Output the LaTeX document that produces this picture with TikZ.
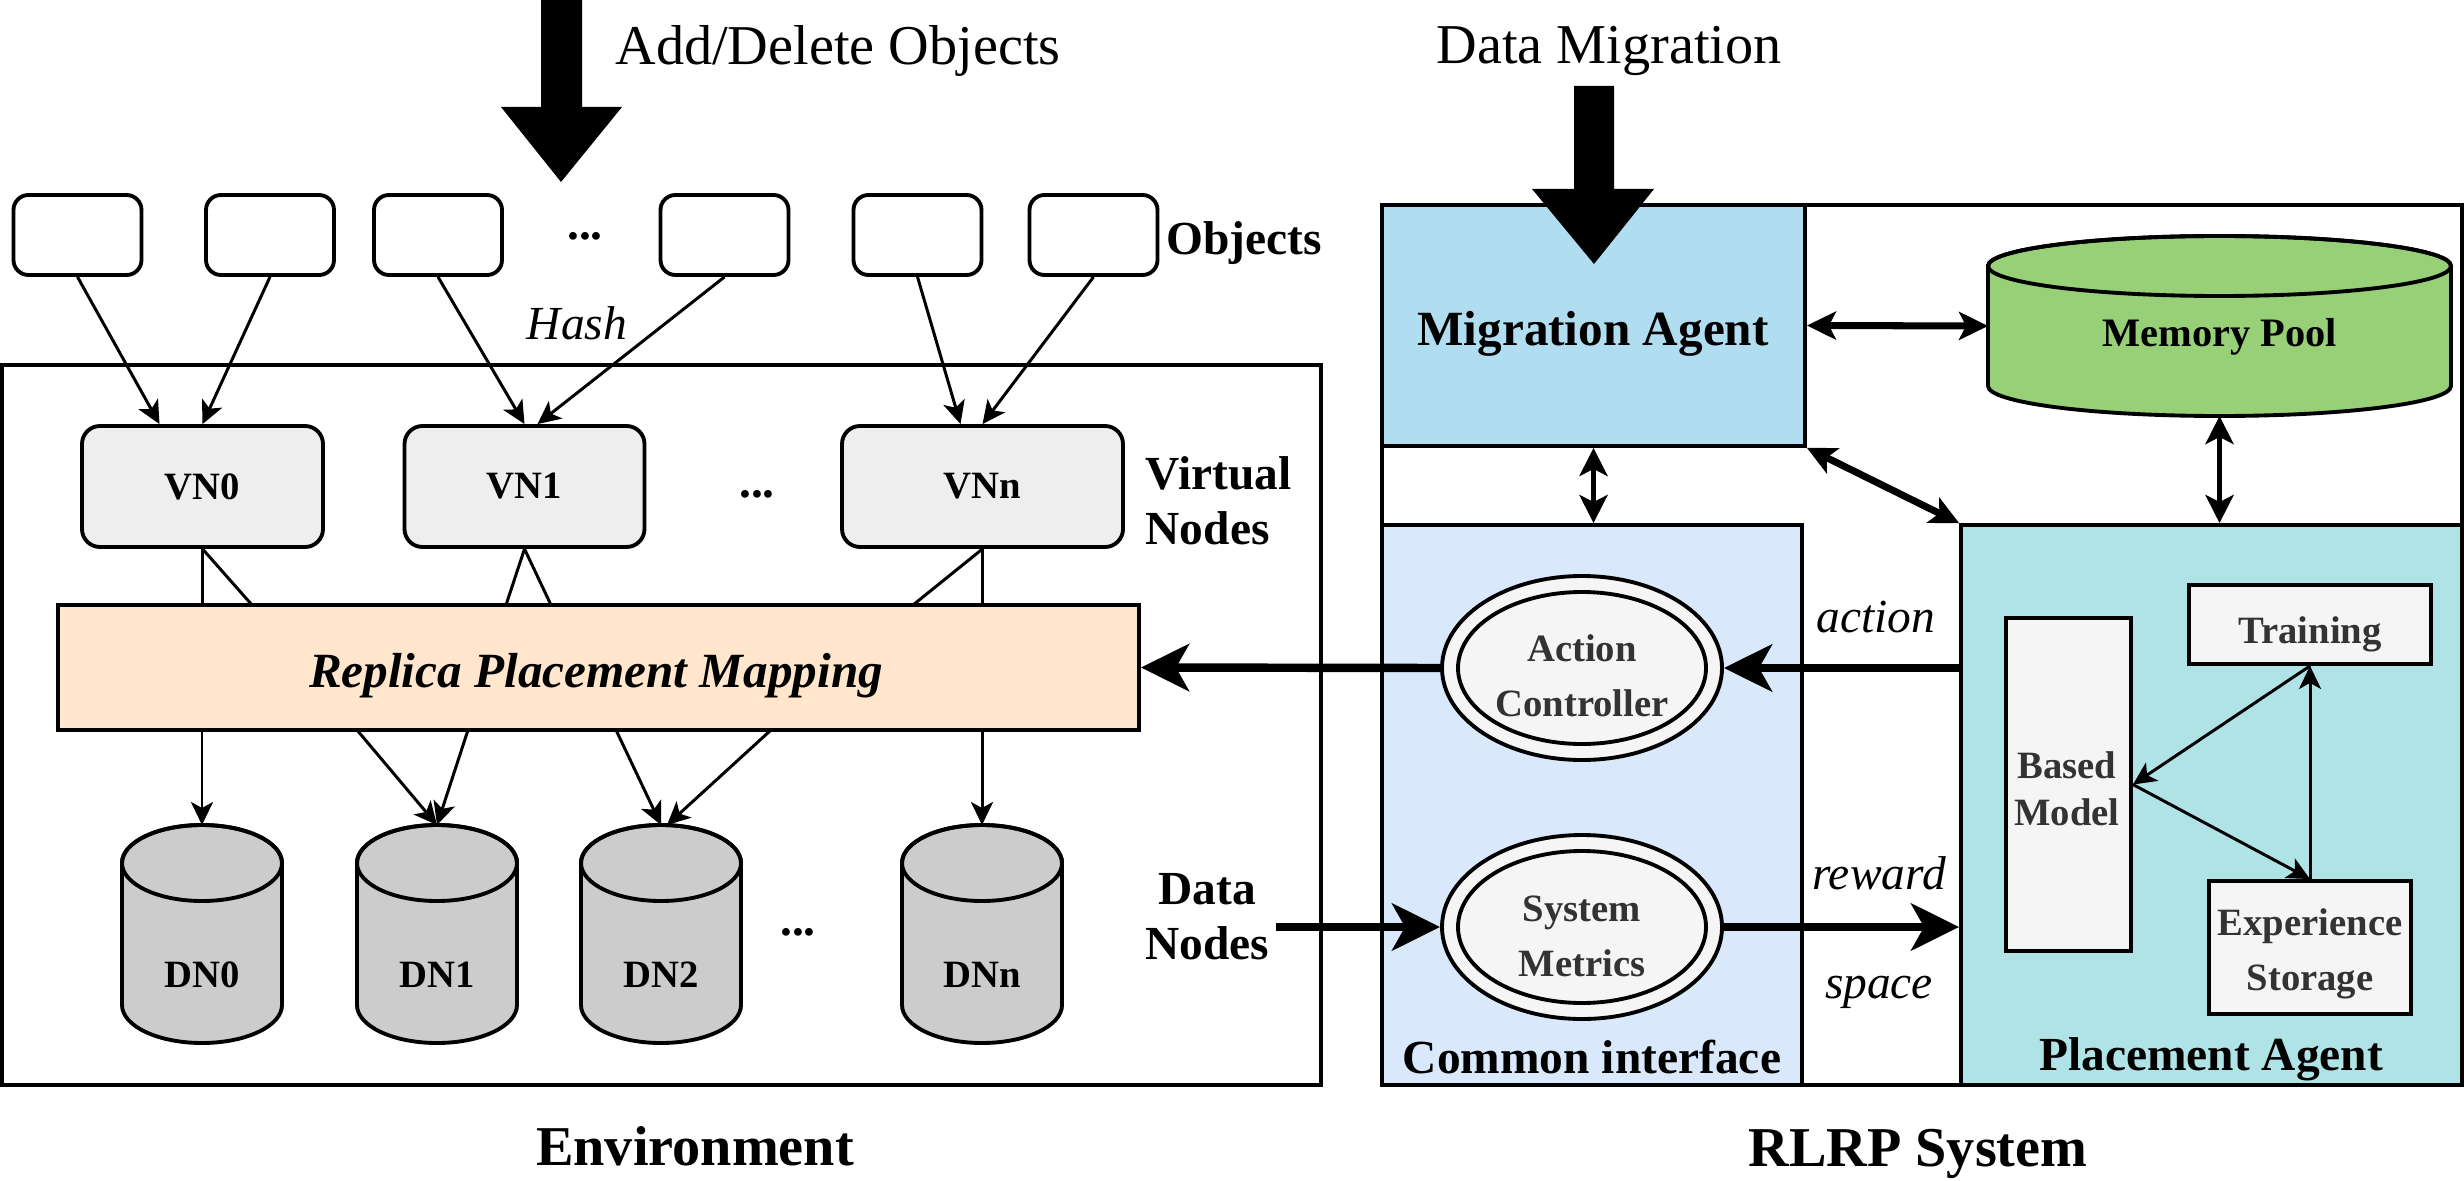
\documentclass[tikz,border=0pt]{standalone}
\usepackage{fontspec}
\setmainfont{Liberation Serif}
\usetikzlibrary{arrows.meta,shapes.geometric,calc}
\definecolor{vngray}{HTML}{EEEEEE}
\definecolor{dngray}{HTML}{CCCCCC}
\definecolor{mapfill}{HTML}{FFE6CC}
\definecolor{mafill}{HTML}{B1DDF0}
\definecolor{cifill}{HTML}{DAE8FC}
\definecolor{pafill}{HTML}{B0E3E6}
\definecolor{mpfill}{HTML}{97D077}
\definecolor{innerfill}{HTML}{F5F5F5}
\definecolor{txtgray}{HTML}{333333}
\newcommand{\myXL}{\fontsize{16}{19}\selectfont}
\newcommand{\myL}{\fontsize{14}{17}\selectfont}
\newcommand{\myM}{\fontsize{13.5}{15.6}\selectfont}
\newcommand{\myS}{\fontsize{11}{15.6}\selectfont}
\newcommand{\mySt}{\fontsize{11}{13.3}\selectfont}
\newcommand{\myMP}{\fontsize{11.5}{14}\selectfont}
\newcommand{\dbcyl}[8]{%
  \filldraw[box, fill=#7] (#2-#5,#3+#6) -- (#2-#5,#4-#6)
     arc[start angle=180,end angle=0,x radius=#5,y radius=#6]
     -- (#2+#5,#3+#6)
     arc[start angle=0,end angle=-180,x radius=#5,y radius=#6] -- cycle;
  \draw[box] (#2,#3+#6) ellipse[x radius=#5,y radius=#6];
  \coordinate (#1) at (#2,{(#3+#4)/2});
  \coordinate (#1-n) at (#2,#3);
  \coordinate (#1-s) at (#2,#4);
  \coordinate (#1-w) at (#2-#5,{(#3+#4)/2});
  \coordinate (#1-e) at (#2+#5,{(#3+#4)/2});
  #8}
\begin{document}
\begin{tikzpicture}[x=0.1mm,y=-0.1mm,
  box/.style={draw, line width=1.1pt},
  objbox/.style={box, rounded corners=1.5mm, fill=white, minimum width=12.8mm, minimum height=8mm, inner sep=0},
  vnbox/.style={box, rounded corners=1.8mm, fill=vngray, minimum height=12.1mm, inner sep=0, font=\myS\bfseries},
  graybox/.style={box, fill=innerfill, inner sep=0},
  ring/.style={box, ellipse, fill=innerfill, minimum width=28mm, minimum height=18.4mm, inner sep=0},
  lbl/.style={inner sep=0, anchor=center},
  thinarrow/.style={line width=0.85pt, -{Stealth[length=2.3mm, width=2.2mm, inset=0.6mm]}},
  thinline/.style={line width=0.85pt},
  thickarrow/.style={line width=2.4pt, -{Stealth[length=4.8mm, width=4.7mm, inset=1.3mm]}},
  dblarrow/.style={line width=2pt, {Stealth[length=2.9mm, width=2.8mm, inset=0.7mm]}-{Stealth[length=2.9mm, width=2.8mm, inset=0.7mm]}},
  dblarrowthin/.style={line width=1.5pt, {Stealth[length=2.8mm, width=2.8mm, inset=0.7mm]}-{Stealth[length=2.8mm, width=2.8mm, inset=0.7mm]}},
]
\useasboundingbox (0,0) rectangle (2464,1180);

% ---------------- Environment ----------------
\draw[box] (2,365) rectangle (1321,1085);

% top block arrow
\fill (541,0) -- (582,0) -- (582,107) -- (622,107) -- (561,182) -- (501,107) -- (541,107) -- cycle;
\node[lbl, font=\myXL] (adddel) at (838,51) {Add/Delete Objects};

% objects
\node[objbox] (o1) at (77.5,235) {};
\node[objbox] (o2) at (270,235) {};
\node[objbox] (o3) at (438,235) {};
\node[lbl, font=\myM\bfseries] (odots) at (585,236) {...};
\node[objbox] (o4) at (724.5,235) {};
\node[objbox] (o5) at (917.5,235) {};
\node[objbox] (o6) at (1093.5,235) {};
\node[lbl, font=\myM\bfseries] (objlbl) at (1244,243) {Objects};
\node[lbl, font=\myM\itshape] (hash) at (577,323) {Hash};

% virtual nodes
\node[vnbox, minimum width=24.1mm] (vn0) at (202.5,486.5) {VN0};
\node[vnbox, minimum width=24.0mm] (vn1) at (524.5,486.5) {VN1};
\node[lbl, font=\myM\bfseries] (vdots) at (757,494) {...};
\node[vnbox, minimum width=28.1mm] (vnn) at (982.5,486.5) {VNn};
\node[lbl, font=\myM\bfseries, align=left, anchor=west] (vnlbl) at (1145,501) {Virtual\\Nodes};

% hash arrows
\draw[thinarrow] (o1.south) -- ([xshift=-4.3mm]vn0.north);
\draw[thinarrow] (o2.south) -- (vn0.north);
\draw[thinarrow] (o3.south) -- (vn1.north);
\draw[thinarrow] (o4.south) -- ([xshift=1.3mm]vn1.north);
\draw[thinarrow] (o5.south) -- ([xshift=-2.2mm]vnn.north);
\draw[thinarrow] (o6.south) -- (vnn.north);

% mapping
\node[box, fill=mapfill, minimum width=108.1mm, minimum height=12.5mm, inner sep=0] (map) at (598.5,667.5) {};
\node[lbl, font=\myL\bfseries\itshape] (maptxt) at (596,676) {Replica Placement Mapping};

% VN -> mapping lines
\coordinate (t1) at (252,605);
\coordinate (t2) at (506,605);
\coordinate (t3) at (551,605);
\coordinate (t4) at (913,605);
\draw[thinline] (vn0.south) -- (vn0.south |- map.north);
\draw[thinline] (vn0.south) -- (t1);
\draw[thinline] (vn1.south) -- (t2);
\draw[thinline] (vn1.south) -- (t3);
\draw[thinline] (vnn.south) -- (t4);
\draw[thinline] (vnn.south) -- (vnn.south |- map.north);

% data nodes
\dbcyl{dn0}{202}{825}{1043}{80}{38}{dngray}{\node[lbl, font=\myS\bfseries] (dn0t) at (202,975) {DN0};}
\dbcyl{dn1}{437}{825}{1043}{80}{38}{dngray}{\node[lbl, font=\myS\bfseries] (dn1t) at (437,975) {DN1};}
\dbcyl{dn2}{661}{825}{1043}{80}{38}{dngray}{\node[lbl, font=\myS\bfseries] (dn2t) at (661,975) {DN2};}
\node[lbl, font=\myM\bfseries] (ddots) at (798,932) {...};
\dbcyl{dnn}{982}{825}{1043}{80}{38}{dngray}{\node[lbl, font=\myS\bfseries] (dnnt) at (982,975) {DNn};}

% mapping -> DN arrows
\coordinate (b1) at (357,730);
\coordinate (b2) at (468,730);
\coordinate (b3) at (616,730);
\coordinate (b4) at (771,730);
\draw[thinarrow] (dn0-n |- map.south) -- (dn0-n);
\draw[thinarrow] (b1) -- (dn1-n);
\draw[thinarrow] (b2) -- (dn1-n);
\draw[thinarrow] (b3) -- (dn2-n);
\draw[thinarrow] (b4) -- ([xshift=0.6mm]dn2-n);
\draw[thinarrow] (dnn-n |- map.south) -- (dnn-n);

\node[lbl, font=\myM\bfseries, align=center] (dnlbl) at (1207,917) {Data\\Nodes};
\node[lbl, font=\myXL\bfseries] (envlbl) at (695,1146) {Environment};

% ---------------- RLRP System ----------------
\draw[box, fill=white] (1382,205) rectangle (2462,1085);
\node[box, fill=mafill, minimum width=42.3mm, minimum height=24.1mm, inner sep=0] (ma) at (1593.5,325.5) {};
\node[lbl, font=\myL\bfseries] (matxt) at (1593,334) {Migration Agent};
\node[box, fill=cifill, minimum width=42mm, minimum height=56mm, inner sep=0] (ci) at (1592,805) {};
\node[box, fill=pafill, minimum width=50.1mm, minimum height=56mm, inner sep=0] (pa) at (2211.5,805) {};
\dbcyl{mp}{2219.5}{236}{416}{231.5}{30}{mpfill}{\node[lbl, font=\myMP\bfseries] (mpt) at (2219.5,337) {Memory Pool};}

% Data migration block arrow
\fill (1574,86) -- (1614,86) -- (1614,189) -- (1654,189) -- (1594,264) -- (1532,189) -- (1574,189) -- cycle;
\node[lbl, font=\myXL] (dmlbl) at (1609,51) {Data Migration};

% double arrows
\draw[dblarrow] (ma.east) -- (mp-w);
\draw[dblarrowthin] (ma.south) -- (ma.south |- ci.north);
\draw[dblarrow] (ma.south east) -- (pa.north west);
\draw[dblarrowthin] (mp-s) -- (mp-s |- pa.north);

% common interface
\node[ring] (ac) at (1582,668) {};
\draw[box] (ac.center) ellipse[x radius=124, y radius=76];
\node[lbl, font=\myS\bfseries, text=txtgray, align=center] (actxt) at (1582,676) {Action\\Controller};
\node[ring] (sm) at (1582,927) {};
\draw[box] (sm.center) ellipse[x radius=124, y radius=76];
\node[lbl, font=\myS\bfseries, text=txtgray, align=center] (smtxt) at (1582,936) {System\\Metrics};
\node[lbl, font=\myM\bfseries] (cilbl) at (1592,1057) {Common interface};

% placement agent internals
\node[graybox, minimum width=12.5mm, minimum height=33.3mm] (bm) at (2068.5,784.5) {};
\node[lbl, font=\mySt\bfseries, text=txtgray, align=center] (bmtxt) at (2067,789) {Based\\Model};
\node[graybox, minimum width=24.2mm, minimum height=7.9mm] (tr) at (2310,624.5) {};
\node[lbl, font=\myS\bfseries, text=txtgray] (trtxt) at (2310,634) {Training};
\node[graybox, minimum width=20.2mm, minimum height=13.3mm] (ex) at (2310,947.5) {};
\node[lbl, font=\myS\bfseries, text=txtgray, align=center] (extxt) at (2310,954) {Experience\\Storage};
\node[lbl, font=\myM\bfseries] (palbl) at (2211,1059) {Placement Agent};

\draw[thinarrow] (tr.south) -- (bm.east);
\draw[thinarrow] (bm.east) -- (ex.north);
\draw[thinarrow] (ex.north) -- (tr.south);

% action / reward
\draw[thickarrow] (pa.west |- ac.east) -- (ac.east);
\draw[thickarrow] (ac.west) -- (map.east);
\draw[thickarrow] (sm.east) -- (pa.west |- sm.east);
\coordinate (dnstart) at (1276,927);
\draw[thickarrow] (dnstart) -- (sm.west);
\node[lbl, font=\myM\itshape] (actlbl) at (1876,617) {action};
\node[lbl, font=\myM\itshape] (rwlbl) at (1879,873) {reward};
\node[lbl, font=\myM\itshape] (splbl) at (1879,992) {space};

\node[lbl, font=\myXL\bfseries] (rlrplbl) at (1918,1154) {RLRP System};
\end{tikzpicture}
\end{document}
